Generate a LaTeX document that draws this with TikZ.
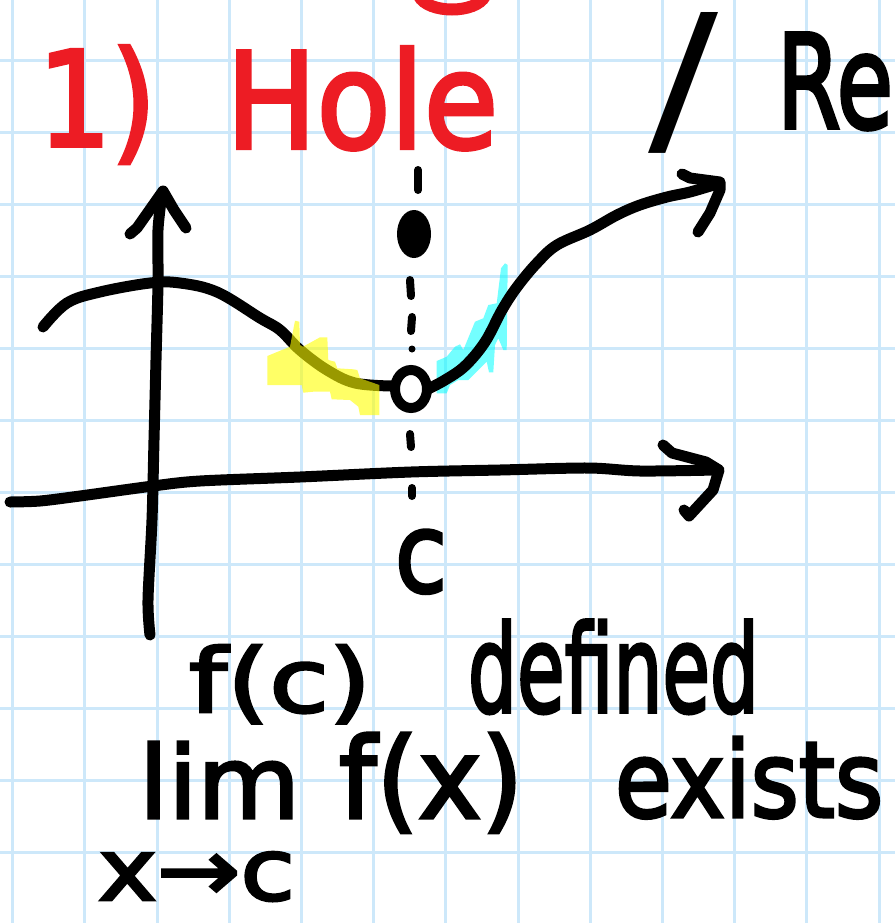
\documentclass[tikz,border=0pt]{standalone}
\usepackage{fontspec}
\setmainfont{DejaVu Sans}
\newfontfamily\hand{DejaVu Sans}[FakeBold=3]
\usepackage{graphicx}
\definecolor{gridblue}{RGB}{205,232,250}
\definecolor{penred}{RGB}{237,28,36}
\definecolor{hlyellow}{RGB}{255,255,0}
\definecolor{hlcyan}{RGB}{0,255,255}
\newcommand{\fitword}[3]{\resizebox{#1pt}{#2pt}{\hand #3}}
\newcommand{\fitthin}[3]{\resizebox{#1pt}{#2pt}{#3}}
\begin{document}
\begin{tikzpicture}[x=1pt,y=-1pt,
  pen/.style={line width=11pt,line cap=round,line join=round},
  dashseg/.style={line width=8pt,line cap=round},
  word/.style={anchor=base west,inner sep=0pt,outer sep=0pt},
  gridline/.style={gridblue,line width=3pt}]
\useasboundingbox (0,0) rectangle (895,923);
\begin{scope}
\clip (0,0) rectangle (895,923);
\fill[white] (0,0) rectangle (895,923);
% grid paper
\foreach \i in {0,...,12} \draw[gridline] ({12.6+72.2*\i},0) -- ({12.6+72.2*\i},923);
\foreach \j in {0,...,11} \draw[gridline] (0,{60.7+72*\j}) -- (895,{60.7+72*\j});

% red fragment at the top
\draw[penred,line width=12pt,line cap=round] (419,-4) .. controls (428,14) and (476,14) .. (485,-4);

% title
\node[word,text=penred] (one) at (38,146) {\fitword{118}{100}{1)}};
\node[word,text=penred] (hole) at (226,148) {\fitword{272}{101}{Hole}};
\node[word] (slash) at (648,138) {\fitthin{70}{125}{/}};
\node[word] (re) at (777,128) {\fitword{116}{95}{Re}};

% cyan highlight (under the curve)
\fill[hlcyan,opacity=0.55] (436.7,393.3) -- (436.7,361) -- (446.7,356.7) -- (455,346.7) -- (460,344.3) -- (463.3,350) -- (475,321.7) -- (483.3,318.3) -- (488.3,305) -- (496.7,303.3) -- (501,268.3) -- (505,263.3) -- (507.7,265) -- (506.7,350) -- (503.3,350) -- (498.3,338.3) -- (495,345) -- (493.3,372.3) -- (489,372.3) -- (486.7,361.7) -- (468.3,380) -- (458.3,380) -- (450,385) -- (446.7,393.3) -- cycle;

% axes
\draw[pen] plot[smooth] coordinates {(150,635) (148,600) (152,520) (154,440) (156,360) (158,283) (158,230) (162,194)};
\draw[pen] (130,234) -- (137,228) -- (163,191) -- (174,210) -- (186,228);
\draw[pen] plot[smooth] coordinates {(10,502) (40,501) (80,496) (153,486) (200,481) (300,477) (411,472) (500,470) (588,468) (640,471) (716,470)};
\draw[pen] (663,445) -- (672,453) -- (706,462) -- (719,470) -- (713,490) -- (689,516) -- (684,510);

% curve
\draw[pen] plot[smooth,tension=0.6] coordinates {(43,327) (67,303) (100,292) (150,283) (180,283) (217,292) (260,318) (280,330) (300,350) (327,370) (355,383) (392,386)};
\draw[pen] plot[smooth,tension=0.6] coordinates {(428,389) (445,380) (465,366) (485,342) (502,310) (517,287) (537,263) (557,245) (590,230) (617,215) (640,205) (667,197) (690,192) (717,184)};
\draw[pen] (682,174) -- (690,178) -- (720,182) -- (720,190) -- (710,213) -- (698,232);

% yellow highlight (over the curve)
\fill[hlyellow,opacity=0.6] (267.3,356) -- (290,346.7) -- (295,320.7) -- (299.3,321.7) -- (300,345) -- (303,346.7) -- (320,337.3) -- (327.3,337.3) -- (328.3,360) -- (335,361.7) -- (337.3,368.3) -- (353.3,369.3) -- (357.3,370) -- (360,378.3) -- (379.3,385) -- (379.3,415) -- (360,415) -- (358.3,406.7) -- (350,400) -- (331.7,399.3) -- (330,391.7) -- (313.3,391.7) -- (303.3,392.7) -- (301.7,385) -- (267.3,385) -- cycle;

% dotted vertical line at c
\draw[dashseg] (418,170) -- (418,190);
\fill (414,234) ellipse [x radius=17, y radius=24];
\draw[dashseg] (410,280) -- (411,296);
\draw[dashseg] (412,317) -- (411,331);
\fill (412,349) circle [radius=3.5];
\draw[line width=10pt] (411,389) ellipse [x radius=16, y radius=19];
\draw[dashseg] (410,434) -- (411,447);
\draw[dashseg] (412,488) -- (412,496);
\node[word] (cl) at (395,592) {\fitword{52}{62}{c}};

% conditions
\node[word] (fc) at (189,712) {\fitword{182}{67}{f(c)}};
\node[word] (def) at (468,712) {\fitword{291}{92}{defined}};
\node[word] (lim) at (139,818) {\fitword{161}{76}{lim}};
\node[word] (fx) at (339,818) {\fitword{184}{85}{f(x)}};
\node[word] (ex) at (615,817) {\fitword{268}{80}{exists}};
\node[word] (xc) at (98,900) {\fitword{197}{48}{x→c}};
\end{scope}
\end{tikzpicture}
\end{document}
